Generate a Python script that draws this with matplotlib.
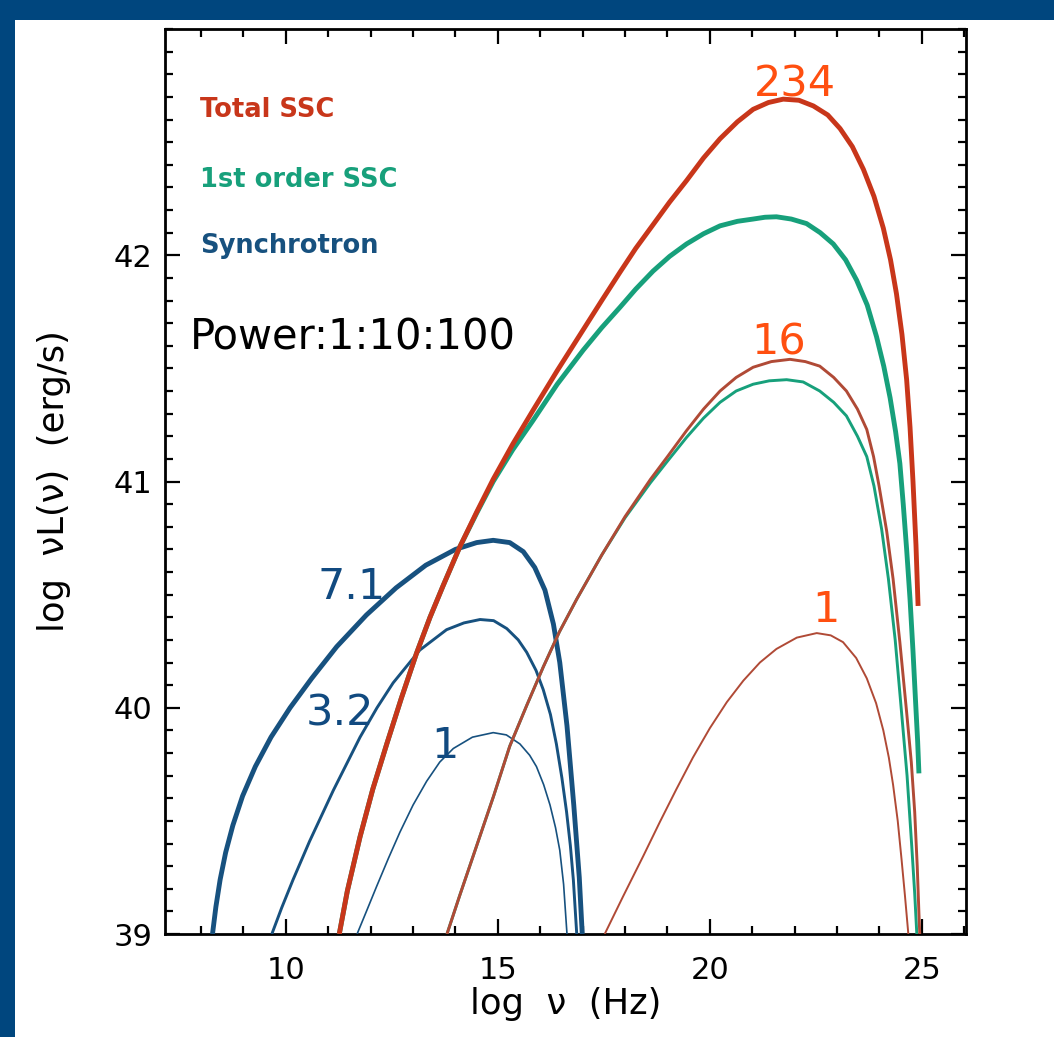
import matplotlib
matplotlib.use('Agg')
import matplotlib.pyplot as plt
from matplotlib.patches import Rectangle
from matplotlib.ticker import MultipleLocator, FixedLocator

# ---------------- data ----------------
sync_1_x = [11.68, 11.90, 12.14, 12.42, 12.69, 13.00, 13.32, 13.63, 13.95, 14.40, 14.89, 15.20, 15.52, 15.75, 15.91, 16.08, 16.23, 16.36, 16.46, 16.55, 16.63]
sync_1_y = [39.00, 39.10, 39.21, 39.335, 39.45, 39.57, 39.675, 39.76, 39.82, 39.87, 39.89, 39.88, 39.84, 39.79, 39.74, 39.66, 39.57, 39.47, 39.37, 39.22, 39.00]

sync_32_x = [9.67, 9.90, 10.17, 10.56, 11.12, 11.75, 12.15, 12.53, 13.16, 13.79, 14.20, 14.58, 14.90, 15.21, 15.48, 15.68, 15.90, 16.07, 16.24, 16.38, 16.51, 16.62, 16.71, 16.78, 16.86]
sync_32_y = [39.00, 39.115, 39.24, 39.41, 39.635, 39.87, 40.00, 40.11, 40.255, 40.345, 40.375, 40.39, 40.385, 40.35, 40.30, 40.245, 40.165, 40.08, 39.97, 39.84, 39.69, 39.54, 39.39, 39.24, 39.00]

sync_71_x = [8.27, 8.35, 8.45, 8.58, 8.75, 8.98, 9.28, 9.65, 10.10, 10.61, 11.20, 11.90, 12.60, 13.30, 14.00, 14.50, 14.89, 15.28, 15.60, 15.87, 16.11, 16.31, 16.46, 16.63, 16.79, 16.92, 16.99]
sync_71_y = [39.00, 39.12, 39.24, 39.36, 39.48, 39.61, 39.74, 39.87, 40.00, 40.13, 40.27, 40.41, 40.53, 40.63, 40.70, 40.73, 40.74, 40.73, 40.69, 40.62, 40.52, 40.37, 40.20, 39.92, 39.57, 39.25, 39.00]

total_234_x = [11.26, 11.45, 11.75, 12.05, 12.38, 12.72, 13.08, 13.40, 13.71, 14.10, 14.50, 14.89, 15.35, 15.83, 16.40, 17.01, 17.45, 17.88, 18.25, 18.66, 19.05, 19.45, 19.85, 20.24, 20.65, 21.02, 21.38, 21.73, 22.10, 22.44, 22.78, 23.07, 23.36, 23.62, 23.87, 24.09, 24.26, 24.40, 24.53, 24.64, 24.72, 24.79, 24.86, 24.91]
total_234_y = [39.00, 39.19, 39.43, 39.64, 39.84, 40.04, 40.24, 40.40, 40.54, 40.71, 40.865, 41.01, 41.165, 41.315, 41.49, 41.67, 41.80, 41.925, 42.03, 42.135, 42.235, 42.33, 42.43, 42.515, 42.59, 42.645, 42.675, 42.69, 42.685, 42.66, 42.62, 42.56, 42.48, 42.38, 42.26, 42.12, 41.98, 41.83, 41.65, 41.45, 41.24, 41.00, 40.72, 40.45]

first_234_x = [11.26, 11.45, 11.75, 12.05, 12.38, 12.72, 13.08, 13.40, 13.71, 14.10, 14.50, 14.89, 15.35, 15.83, 16.40, 17.01, 17.45, 17.88, 18.25, 18.66, 19.05, 19.45, 19.85, 20.24, 20.65, 21.02, 21.30, 21.57, 21.92, 22.28, 22.60, 22.91, 23.20, 23.46, 23.71, 23.93, 24.10, 24.25, 24.38, 24.48, 24.56, 24.64, 24.72, 24.79, 24.85, 24.90, 24.93]
first_234_y = [39.00, 39.19, 39.43, 39.64, 39.84, 40.04, 40.24, 40.40, 40.54, 40.71, 40.86, 41.00, 41.14, 41.27, 41.43, 41.58, 41.68, 41.77, 41.85, 41.93, 41.995, 42.05, 42.095, 42.13, 42.15, 42.16, 42.168, 42.17, 42.16, 42.14, 42.10, 42.05, 41.98, 41.89, 41.78, 41.64, 41.51, 41.37, 41.22, 41.08, 40.90, 40.70, 40.48, 40.25, 40.03, 39.85, 39.71]

total_16_x = [13.80, 14.10, 14.50, 14.90, 15.28, 15.68, 16.07, 16.45, 16.86, 17.45, 18.00, 18.60, 19.00, 19.45, 19.85, 20.24, 20.62, 21.02, 21.45, 21.89, 22.25, 22.59, 22.92, 23.22, 23.48, 23.70, 23.86, 23.99, 24.17, 24.32, 24.48, 24.64, 24.75, 24.83, 24.89, 24.93, 24.95]
total_16_y = [39.00, 39.17, 39.39, 39.61, 39.83, 40.01, 40.18, 40.335, 40.48, 40.675, 40.845, 41.01, 41.11, 41.225, 41.32, 41.40, 41.46, 41.505, 41.53, 41.54, 41.53, 41.51, 41.46, 41.40, 41.32, 41.23, 41.11, 40.98, 40.78, 40.57, 40.29, 39.98, 39.76, 39.54, 39.30, 39.09, 39.00]

first_16_x = [13.80, 14.10, 14.50, 14.90, 15.28, 15.68, 16.07, 16.45, 16.86, 17.45, 18.00, 18.60, 19.00, 19.45, 19.85, 20.24, 20.62, 21.02, 21.40, 21.81, 22.20, 22.59, 22.92, 23.22, 23.48, 23.70, 23.87, 24.05, 24.21, 24.37, 24.52, 24.65, 24.76, 24.83, 24.88]
first_16_y = [39.00, 39.17, 39.39, 39.61, 39.83, 40.01, 40.18, 40.335, 40.48, 40.675, 40.84, 40.995, 41.09, 41.195, 41.28, 41.35, 41.40, 41.43, 41.445, 41.45, 41.44, 41.40, 41.35, 41.29, 41.20, 41.11, 40.98, 40.79, 40.57, 40.30, 39.98, 39.70, 39.39, 39.18, 39.00]

total_1_x = [17.52, 17.95, 18.43, 18.82, 19.21, 19.60, 20.00, 20.40, 20.79, 21.18, 21.57, 22.05, 22.52, 22.85, 23.14, 23.45, 23.70, 23.92, 24.09, 24.22, 24.32, 24.43, 24.52, 24.60, 24.68]
total_1_y = [39.00, 39.165, 39.345, 39.495, 39.64, 39.78, 39.91, 40.025, 40.12, 40.20, 40.26, 40.31, 40.33, 40.32, 40.29, 40.22, 40.13, 40.02, 39.90, 39.78, 39.66, 39.50, 39.33, 39.17, 39.00]

x_ticks = [10, 15, 20, 25]
x_tick_labels = ['10', '15', '20', '25']
y_ticks = [39, 40, 41, 42]
y_tick_labels = ['39', '40', '41', '42']

legend_labels = ['Total SSC', '1st order SSC', 'Synchrotron']
power_label = 'Power:1:10:100'
ssc_labels = ['234', '16', '1']
sync_labels = ['7.1', '3.2', '1']

# ---------------- styling ----------------
C_FRAME = '#00467e'
C_BLUE = '#17517f'
C_RED = '#c8361a'
C_RED_THIN = '#b04a36'
C_GREEN = '#17a07b'
C_ORANGE = '#ff4f10'
C_BLUE_TXT = '#114a80'

W, H = 1054, 1037
fig = plt.figure(figsize=(W / 100, H / 100), dpi=100)
fig.patch.set_facecolor(C_FRAME)
fig.patches.append(Rectangle((15 / W, 0), 1, 1 - 20 / H, transform=fig.transFigure,
                             facecolor='white', edgecolor='none', zorder=-10))

left, right, top, bottom = 165, 966, 29, 934
ax = fig.add_axes([left / W, 1 - bottom / H, (right - left) / W, (bottom - top) / H])
ax.set_zorder(5)
ax.set_xlim(7.15, 26.04)
ax.set_ylim(39, 43)

kw = dict(solid_capstyle='butt', solid_joinstyle='round')
# synchrotron
ax.plot(sync_1_x, sync_1_y, color=C_BLUE, lw=1.2, zorder=3, **kw)
ax.plot(sync_32_x, sync_32_y, color=C_BLUE, lw=2.1, zorder=3, **kw)
ax.plot(sync_71_x, sync_71_y, color=C_BLUE, lw=3.5, zorder=3, **kw)
# 1st order SSC
ax.plot(first_16_x, first_16_y, color=C_GREEN, lw=2.1, zorder=4, **kw)
ax.plot(first_234_x, first_234_y, color=C_GREEN, lw=3.5, zorder=4, **kw)
# total SSC
ax.plot(total_1_x, total_1_y, color=C_RED_THIN, lw=1.4, zorder=5, **kw)
ax.plot(total_16_x, total_16_y, color=C_RED_THIN, lw=2.1, zorder=5, **kw)
ax.plot(total_234_x, total_234_y, color=C_RED, lw=3.5, zorder=5, **kw)

# axes / ticks
for s in ax.spines.values():
    s.set_linewidth(2.0)
    s.set_color('black')
ax.xaxis.set_major_locator(FixedLocator(x_ticks))
ax.set_xticklabels(x_tick_labels)
ax.xaxis.set_minor_locator(MultipleLocator(1))
ax.yaxis.set_major_locator(FixedLocator(y_ticks))
ax.set_yticklabels(y_tick_labels)
ax.yaxis.set_minor_locator(MultipleLocator(0.1))
ax.tick_params(which='both', direction='in', top=True, right=True, width=1.6, color='black')
ax.tick_params(which='major', length=11)
ax.tick_params(which='minor', length=5.5)
ax.tick_params(axis='x', which='major', labelsize=22, pad=16)
ax.tick_params(axis='y', which='major', labelsize=22, pad=9)

ax.set_xlabel('log  ν  (Hz)', fontsize=25.5, labelpad=1)
ax.set_ylabel('log  νL(ν)  (erg/s)', fontsize=25.5, labelpad=31)

# legend-like texts
leg_colors = [C_RED, C_GREEN, C_BLUE]
leg_y = [0.9105, 0.833, 0.760]
for lab, c, yy in zip(legend_labels, leg_colors, leg_y):
    ax.text(0.044, yy, lab, transform=ax.transAxes, color=c, fontsize=18.5,
            fontweight='bold', va='center', ha='left')

ax.text(0.031, 0.6586, power_label, transform=ax.transAxes, color='black',
        fontsize=30, va='center', ha='left')

# annotations (label positions)
ssc_pos = [(22.0, 42.70), (21.63, 41.56), (22.74, 40.38)]
for lab, (xx, yy) in zip(ssc_labels, ssc_pos):
    ax.text(xx, yy, lab, color=C_ORANGE, fontsize=31, ha='center', va='baseline', zorder=6)
sync_pos = [(11.56, 40.48), (11.27, 39.92), (13.75, 39.78)]
for lab, (xx, yy) in zip(sync_labels, sync_pos):
    ax.text(xx, yy, lab, color=C_BLUE_TXT, fontsize=31, ha='center', va='baseline', zorder=6)

fig.savefig('out.png', dpi=100, facecolor=fig.get_facecolor())
